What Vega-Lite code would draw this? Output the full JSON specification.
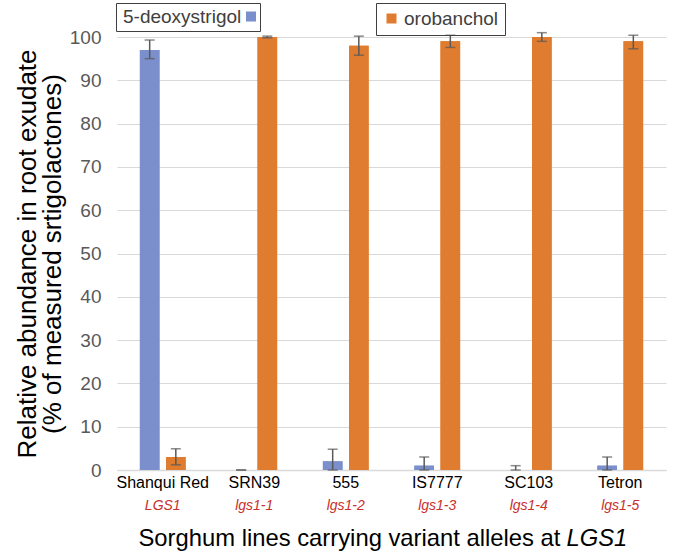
{
  "$schema": "https://vega.github.io/schema/vega-lite/v6.json",
  "width": 549,
  "height": 433,
  "autosize": {"type": "none"},
  "padding": {"left": 117, "top": 37, "right": 11, "bottom": 83},
  "config": {
    "font": "Liberation Sans",
    "view": {"stroke": null},
    "axis": {"ticks": false}
  },
  "data": {
    "values": [
      {"line": "Shanqui Red", "allele": "LGS1", "series": "5-deoxystrigol", "kind": "5-deoxystrigol", "value": 97, "lo": 95, "hi": 99.3},
      {"line": "Shanqui Red", "allele": "LGS1", "series": "orobanchol", "kind": "orobanchol", "value": 3, "lo": 1.2, "hi": 4.9},
      {"line": "SRN39", "allele": "lgs1-1", "series": "5-deoxystrigol", "kind": "5-deoxystrigol", "value": 0, "lo": 0, "hi": 0},
      {"line": "SRN39", "allele": "lgs1-1", "series": "orobanchol", "kind": "orobanchol", "value": 100, "lo": 99.8, "hi": 100.2},
      {"line": "555", "allele": "lgs1-2", "series": "5-deoxystrigol", "kind": "5-deoxystrigol", "value": 2, "lo": 0, "hi": 4.8},
      {"line": "555", "allele": "lgs1-2", "series": "orobanchol", "kind": "orobanchol", "value": 98, "lo": 95.8, "hi": 100.2},
      {"line": "IS7777", "allele": "lgs1-3", "series": "5-deoxystrigol", "kind": "5-deoxystrigol", "value": 1, "lo": 0, "hi": 3},
      {"line": "IS7777", "allele": "lgs1-3", "series": "orobanchol", "kind": "orobanchol", "value": 99, "lo": 97.6, "hi": 100.4},
      {"line": "SC103", "allele": "lgs1-4", "series": "5-deoxystrigol", "kind": "5-deoxystrigol", "value": 0, "lo": 0, "hi": 1},
      {"line": "SC103", "allele": "lgs1-4", "series": "orobanchol", "kind": "orobanchol", "value": 100, "lo": 99, "hi": 101},
      {"line": "Tetron", "allele": "lgs1-5", "series": "5-deoxystrigol", "kind": "5-deoxystrigol", "value": 1, "lo": 0, "hi": 3},
      {"line": "Tetron", "allele": "lgs1-5", "series": "orobanchol", "kind": "orobanchol", "value": 99, "lo": 97.3, "hi": 100.4}
    ]
  },
  "resolve": {"axis": {"x": "independent"}},
  "layer": [
    {
      "mark": {"type": "bar"},
      "encoding": {
        "x": {
          "field": "line", "type": "nominal", "sort": null,
          "scale": {"paddingInner": 0.5, "paddingOuter": 0.25},
          "axis": {
            "orient": "bottom", "title": null, "labelAngle": 0,
            "labelFontSize": 16, "labelColor": "#000000", "labelPadding": 4,
            "domain": true, "domainColor": "#d9d9d9", "domainWidth": 1.5
          }
        },
        "xOffset": {"field": "series", "type": "nominal", "scale": {"paddingInner": 0.25, "paddingOuter": 0}},
        "y": {
          "field": "value", "type": "quantitative",
          "scale": {"domain": [0, 100], "nice": false},
          "axis": {
            "values": [0, 10, 20, 30, 40, 50, 60, 70, 80, 90, 100],
            "domain": false, "grid": true, "gridColor": "#d9d9d9", "gridWidth": 1,
            "labelFontSize": 19, "labelColor": "#595959", "labelPadding": 16,
            "title": ["Relative abundance in root exudate", "(% of measured srtigolactones)"],
            "titleFontSize": 26, "titleFontWeight": "normal", "titleColor": "#000000",
            "titleLineHeight": 25, "titlePadding": 4
          }
        },
        "color": {
          "field": "series", "type": "nominal",
          "scale": {"domain": ["orobanchol", "5-deoxystrigol"], "range": ["#df7c2f", "#7a8fcb"]},
          "legend": {
            "values": ["orobanchol"], "title": null, "orient": "none",
            "legendX": 259, "legendY": -34,
            "strokeColor": "#404040", "padding": 6,
            "symbolType": "square", "symbolSize": 100, "symbolStrokeWidth": 0,
            "labelFontSize": 19, "labelColor": "#404040", "labelOffset": 3
          }
        }
      }
    },
    {
      "mark": {"type": "bar"},
      "encoding": {
        "x": {
          "field": "line", "type": "nominal", "sort": null,
          "axis": {
            "orient": "bottom", "labelAngle": 0, "domain": false,
            "labelExpr": "datum.value == 'Shanqui Red' ? 'LGS1' : datum.value == 'SRN39' ? 'lgs1-1' : datum.value == '555' ? 'lgs1-2' : datum.value == 'IS7777' ? 'lgs1-3' : datum.value == 'SC103' ? 'lgs1-4' : 'lgs1-5'",
            "labelFontSize": 14, "labelFontStyle": "italic", "labelColor": "#c8302c", "labelPadding": 28,
            "title": "Sorghum lines carrying variant alleles at",
            "titleFontSize": 23.8, "titleFontWeight": "normal", "titleColor": "#000000",
            "titleAnchor": "start", "titleAlign": "left", "titleX": 21, "titleY": 75, "titleBaseline": "alphabetic"
          }
        },
        "xOffset": {"field": "series", "type": "nominal"},
        "y": {"field": "value", "type": "quantitative"},
        "fill": {
          "field": "kind", "type": "nominal",
          "scale": {"domain": ["5-deoxystrigol", "orobanchol"], "range": ["#7a8fcb", "#df7c2f"]},
          "legend": {
            "values": ["5-deoxystrigol"], "title": null, "orient": "none",
            "legendX": -1, "legendY": -34,
            "strokeColor": "#404040", "padding": 4,
            "symbolType": "square", "symbolSize": 100, "symbolStrokeWidth": 0,
            "labelFontSize": 19, "labelColor": "#404040",
            "encode": {
              "labels": {"update": {"x": {"value": 3}}},
              "symbols": {"update": {"x": {"value": 131}}}
            }
          }
        }
      }
    },
    {
      "mark": {"type": "rule", "color": "#595959", "strokeWidth": 1.5},
      "encoding": {
        "x": {
          "field": "line", "type": "nominal", "sort": null,
          "axis": {
            "orient": "bottom", "labels": false, "domain": false,
            "title": "LGS1", "titleFontSize": 23.8, "titleFontWeight": "normal", "titleFontStyle": "italic",
            "titleColor": "#000000", "titleAnchor": "start", "titleAlign": "left",
            "titleX": 449, "titleY": 75, "titleBaseline": "alphabetic"
          }
        },
        "xOffset": {"field": "series", "type": "nominal"},
        "y": {"field": "lo", "type": "quantitative"},
        "y2": {"field": "hi"}
      }
    },
    {
      "mark": {"type": "tick", "color": "#595959", "thickness": 1.5, "size": 10, "orient": "horizontal"},
      "encoding": {
        "x": {"field": "line", "type": "nominal", "sort": null, "axis": null},
        "xOffset": {"field": "series", "type": "nominal"},
        "y": {"field": "hi", "type": "quantitative"}
      }
    },
    {
      "mark": {"type": "tick", "color": "#595959", "thickness": 1.5, "size": 10, "orient": "horizontal"},
      "encoding": {
        "x": {"field": "line", "type": "nominal", "sort": null, "axis": null},
        "xOffset": {"field": "series", "type": "nominal"},
        "y": {"field": "lo", "type": "quantitative"}
      }
    }
  ]
}
